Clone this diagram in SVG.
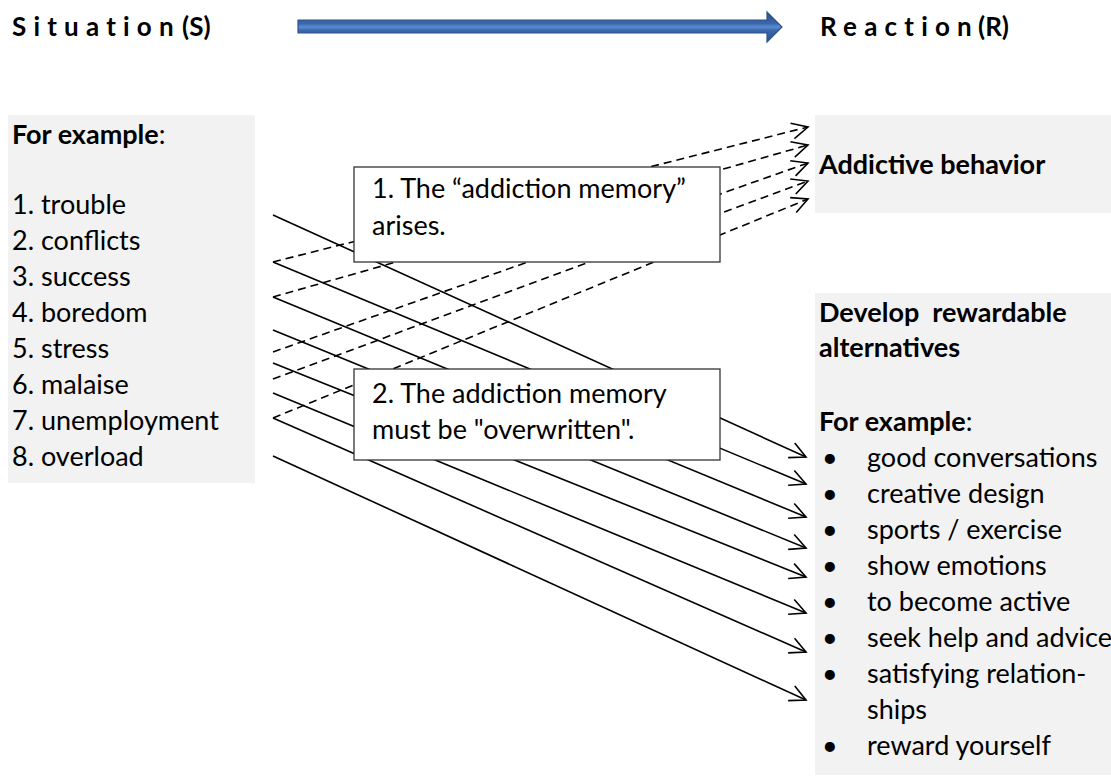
<svg xmlns="http://www.w3.org/2000/svg" width="1111" height="781" viewBox="0 0 1111 781">
<defs>
<style>
text{font-family:Lato,"Liberation Sans",sans-serif;font-size:27px;fill:#000}
.b{font-weight:bold}
.hdr{font-weight:bold;font-size:26px}
.ls{letter-spacing:7.2px}
.panel{fill:#F2F2F2}
.note{fill:#fff;stroke:#333;stroke-width:1.3}
.ln{stroke:#000;stroke-width:1.6;fill:none;marker-end:url(#ah)}
.dash{stroke-dasharray:8 5}
</style>
<marker id="ah" markerUnits="userSpaceOnUse" markerWidth="24" markerHeight="24" viewBox="-20 -12 24 24" refX="0" refY="0" orient="auto">
<path d="M-16,-8 L0,0 L-16,8" fill="none" stroke="#000" stroke-width="1.6" stroke-dasharray="none"/>
</marker>
<linearGradient id="blue" gradientUnits="userSpaceOnUse" x1="0" y1="12" x2="0" y2="42">
<stop offset="0" stop-color="#2F528F"/>
<stop offset="0.38" stop-color="#3A66A8"/>
<stop offset="0.5" stop-color="#5A8CD2"/>
<stop offset="0.62" stop-color="#3A66A8"/>
<stop offset="1" stop-color="#2F528F"/>
</linearGradient>
</defs>

<g id="header">
<text class="hdr" x="12" y="36"><tspan class="ls">Situation</tspan><tspan x="182">(S)</tspan></text>
<polygon points="298,20 767,20 767,12 782,27 767,42 767,33 298,33" fill="url(#blue)" stroke="#2F528F" stroke-width="1.2"/>
<text class="hdr" x="820" y="36"><tspan class="ls">Reaction</tspan><tspan x="978">(R)</tspan></text>
</g>

<g id="situations">
<rect class="panel" x="8" y="115" width="247" height="368"/>
<text x="12" y="144"><tspan class="b">For example</tspan>:</text>
<text x="12" y="214">1. trouble</text>
<text x="12" y="250">2. conflicts</text>
<text x="12" y="286">3. success</text>
<text x="12" y="322">4. boredom</text>
<text x="12" y="358">5. stress</text>
<text x="12" y="394">6. malaise</text>
<text x="12" y="430">7. unemployment</text>
<text x="12" y="466">8. overload</text>
</g>

<g id="addictive">
<rect class="panel" x="815" y="115" width="296" height="98"/>
<text class="b" x="819" y="174">Addictive behavior</text>
</g>

<g id="alternatives">
<rect class="panel" x="815" y="293" width="296" height="482"/>
<text class="b" x="819" y="322" xml:space="preserve">Develop  rewardable</text>
<text class="b" x="819" y="357">alternatives</text>
<text x="819" y="431"><tspan class="b">For example</tspan>:</text>
<g>
<text x="822" y="467">•</text><text x="867" y="467">good conversations</text>
<text x="822" y="503">•</text><text x="867" y="503">creative design</text>
<text x="822" y="539">•</text><text x="867" y="539">sports / exercise</text>
<text x="822" y="575">•</text><text x="867" y="575">show emotions</text>
<text x="822" y="611">•</text><text x="867" y="611">to become active</text>
<text x="822" y="647">•</text><text x="867" y="647">seek help and advice</text>
<text x="822" y="683">•</text><text x="867" y="683">satisfying relation-</text>
<text x="867" y="719">ships</text>
<text x="822" y="755">•</text><text x="867" y="755">reward yourself</text>
</g>
</g>

<g id="connectors">
<line class="ln" x1="273" y1="215" x2="806" y2="457"/>
<line class="ln" x1="273" y1="262" x2="806" y2="484"/>
<line class="ln" x1="273" y1="297" x2="806" y2="517"/>
<line class="ln" x1="273" y1="330" x2="806" y2="548"/>
<line class="ln" x1="273" y1="363" x2="806" y2="577"/>
<line class="ln" x1="273" y1="393" x2="806" y2="613"/>
<line class="ln" x1="273" y1="418" x2="806" y2="652"/>
<line class="ln" x1="273" y1="456" x2="806" y2="700"/>
<line class="ln dash" x1="273" y1="262" x2="808" y2="127"/>
<line class="ln dash" x1="273" y1="297" x2="808" y2="145"/>
<line class="ln dash" x1="273" y1="352" x2="808" y2="163"/>
<line class="ln dash" x1="273" y1="379" x2="808" y2="181"/>
<line class="ln dash" x1="273" y1="418" x2="808" y2="199"/>
</g>

<g id="note1">
<rect class="note" x="354" y="167" width="366" height="95"/>
<text x="372" y="198">1. The “addiction memory”</text>
<text x="372" y="235">arises.</text>
</g>

<g id="note2">
<rect class="note" x="354" y="369" width="366" height="91"/>
<text x="372" y="403">2. The addiction memory</text>
<text x="372" y="439">must be "overwritten".</text>
</g>
</svg>
